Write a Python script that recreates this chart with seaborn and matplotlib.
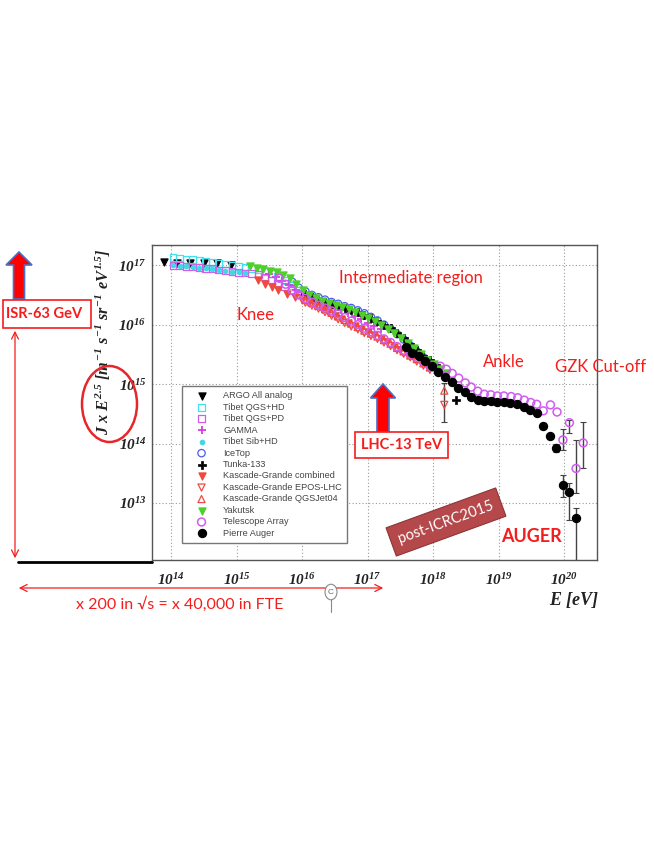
import numpy as np
import pandas as pd
import matplotlib
matplotlib.use("Agg")
import matplotlib.pyplot as plt
import seaborn as sns
from matplotlib.patches import Polygon, Ellipse, Rectangle, Circle
from matplotlib.lines import Line2D

# ---------------- data (log10 of E [eV] and of J x E^2.5) ----------------
argo_logE = [13.89, 14.09, 14.29, 14.50, 14.70, 14.92]
argo_logF = [17.06, 17.03, 17.04, 17.03, 17.04, 17.00]

tibet_hd_logE = [14.03, 14.13, 14.23, 14.33, 14.43, 14.53, 14.63, 14.73, 14.83, 14.93, 15.03, 15.13,
                 15.23, 15.33, 15.43, 15.53, 15.63, 15.73, 15.83, 15.93, 16.03, 16.13, 16.23, 16.33, 16.43, 16.53]
tibet_hd_logF = [17.13, 17.12, 17.10, 17.09, 17.08, 17.06, 17.04, 17.03, 17.02, 17.00, 16.98, 16.97,
                 16.95, 16.93, 16.90, 16.86, 16.81, 16.74, 16.66, 16.58, 16.51, 16.45, 16.40, 16.36, 16.31, 16.27]

tibet_pd_logE = [14.03, 14.13, 14.23, 14.33, 14.43, 14.53, 14.63, 14.73, 14.83, 14.93, 15.03, 15.13,
                 15.23, 15.33, 15.43, 15.53, 15.63, 15.73, 15.83, 15.93, 16.03, 16.13, 16.23, 16.33]
tibet_pd_logF = [17.00, 16.99, 16.98, 16.97, 16.96, 16.95, 16.94, 16.92, 16.91, 16.89, 16.88, 16.87,
                 16.86, 16.84, 16.80, 16.75, 16.70, 16.64, 16.57, 16.50, 16.44, 16.39, 16.35, 16.31]

gamma_logE = [15.5, 15.6, 15.7, 15.8, 15.9, 16.0, 16.1, 16.2, 16.3, 16.4, 16.5, 16.6, 16.7, 16.8, 16.9, 17.0, 17.1, 17.2]
gamma_logF = [16.85, 16.80, 16.74, 16.66, 16.58, 16.50, 16.45, 16.40, 16.36, 16.32, 16.28, 16.24, 16.19, 16.14, 16.09, 16.03, 15.98, 15.92]

tibet_sib_logE = [14.03, 14.13, 14.23, 14.33, 14.43, 14.53, 14.63, 14.73, 14.83, 14.93, 15.03, 15.13]
tibet_sib_logF = [17.00, 16.99, 16.98, 16.97, 16.96, 16.95, 16.94, 16.92, 16.91, 16.89, 16.88, 16.87]

icetop_logE = [15.85, 15.95, 16.05, 16.15, 16.25, 16.35, 16.45, 16.55, 16.65, 16.75, 16.85, 16.95,
               17.05, 17.15, 17.25, 17.35, 17.45, 17.55, 17.65, 17.75, 17.85, 17.95, 18.05]
icetop_logF = [16.72, 16.62, 16.56, 16.50, 16.46, 16.42, 16.38, 16.35, 16.31, 16.28, 16.24, 16.19,
               16.13, 16.07, 16.00, 15.93, 15.84, 15.75, 15.65, 15.55, 15.45, 15.35, 15.27]

tunka_logE = [16.05, 16.15, 16.25, 16.35, 16.45, 16.55, 16.65, 16.75, 16.85, 16.95, 17.05, 17.15,
              17.25, 17.35, 17.45, 17.55, 17.65, 17.75, 17.85, 17.95, 18.05, 18.35]
tunka_logF = [16.52, 16.47, 16.42, 16.38, 16.35, 16.32, 16.28, 16.24, 16.21, 16.17, 16.12, 16.06,
              16.00, 15.94, 15.86, 15.78, 15.68, 15.58, 15.48, 15.40, 15.32, 14.73]

kg_comb_logE = [15.33, 15.44, 15.54, 15.64, 15.77, 15.89, 16.0, 16.1, 16.2, 16.3, 16.4, 16.5, 16.6,
                16.7, 16.8, 16.9, 17.0, 17.1, 17.2, 17.3, 17.4, 17.5, 17.6, 17.7, 17.8, 17.9]
kg_comb_logF = [16.75, 16.69, 16.64, 16.58, 16.52, 16.47, 16.42, 16.37, 16.32, 16.27, 16.21, 16.15, 16.09,
                16.03, 15.98, 15.92, 15.87, 15.82, 15.76, 15.70, 15.63, 15.57, 15.51, 15.45, 15.38, 15.31]

kg_epos_logE = [16.05, 16.15, 16.25, 16.35, 16.45, 16.55, 16.65, 16.75, 16.85, 16.95, 17.05, 17.15,
                17.25, 17.35, 17.45, 17.55, 17.65, 17.75, 17.85, 17.95, 18.17]
kg_epos_logF = [16.37, 16.32, 16.27, 16.21, 16.15, 16.09, 16.03, 15.97, 15.92, 15.86, 15.81, 15.76,
                15.70, 15.64, 15.57, 15.51, 15.45, 15.38, 15.31, 15.24, 14.65]

kg_qgs_logE = [16.05, 16.15, 16.25, 16.35, 16.45, 16.55, 16.65, 16.75, 16.85, 16.95, 17.05, 17.15,
               17.25, 17.35, 17.45, 17.55, 17.65, 17.75, 17.85, 17.95, 18.17]
kg_qgs_logF = [16.42, 16.37, 16.32, 16.26, 16.20, 16.14, 16.08, 16.02, 15.96, 15.90, 15.85, 15.80,
               15.74, 15.68, 15.61, 15.55, 15.48, 15.42, 15.35, 15.28, 14.89]

yakutsk_logE = [15.21, 15.31, 15.41, 15.51, 15.61, 15.71, 15.81, 15.91, 16.01, 16.11, 16.21, 16.31, 16.41,
                16.51, 16.61, 16.71, 16.81, 16.91, 17.01, 17.11, 17.21, 17.31, 17.41, 17.51, 17.61, 17.71,
                17.81, 17.91, 18.01, 18.11, 18.21]
yakutsk_logF = [16.99, 16.96, 16.93, 16.91, 16.88, 16.84, 16.78, 16.69, 16.58, 16.50, 16.44, 16.40, 16.36,
                16.33, 16.30, 16.26, 16.22, 16.17, 16.12, 16.06, 16.00, 15.93, 15.86, 15.78, 15.69, 15.60,
                15.50, 15.41, 15.33, 15.26, 15.18]

ta_logE = [15.65, 15.75, 15.85, 15.95, 16.05, 16.15, 16.25, 16.35, 16.45, 16.55, 16.65, 16.75, 16.85,
           16.95, 17.05, 17.15, 17.25, 17.35, 17.45, 17.55, 17.65, 17.75, 17.85, 17.95,
           18.11, 18.20, 18.29, 18.39, 18.49, 18.58, 18.68, 18.78, 18.88, 18.98, 19.08, 19.19,
           19.29, 19.39, 19.49, 19.58, 19.68, 19.79, 19.89, 19.98, 20.08, 20.18, 20.29]
ta_logF = [16.78, 16.68, 16.58, 16.50, 16.44, 16.38, 16.33, 16.28, 16.23, 16.18, 16.12, 16.06, 16.00,
           15.94, 15.88, 15.82, 15.76, 15.70, 15.63, 15.57, 15.51, 15.45, 15.38, 15.30,
           15.30, 15.25, 15.18, 15.10, 15.02, 14.95, 14.88, 14.83, 14.82, 14.80, 14.80, 14.79,
           14.77, 14.73, 14.69, 14.66, 14.55, 14.65, 14.53, 14.06, 14.35, 13.58, 14.01]
ta_err_logE = [19.98, 20.08, 20.18, 20.29]
ta_err_lo = [13.89, 14.18, 13.17, 13.59]
ta_err_hi = [14.24, 14.40, 14.06, 14.37]

auger_logE = [17.58, 17.68, 17.78, 17.88, 17.98, 18.08, 18.18, 18.28, 18.38, 18.48, 18.58, 18.68, 18.78,
              18.88, 18.98, 19.08, 19.18, 19.28, 19.38, 19.48, 19.58, 19.68, 19.78, 19.88, 19.98, 20.08, 20.18]
auger_logF = [15.62, 15.52, 15.47, 15.38, 15.30, 15.21, 15.12, 15.03, 14.94, 14.86, 14.79, 14.74, 14.72,
              14.71, 14.70, 14.69, 14.68, 14.66, 14.62, 14.57, 14.52, 14.30, 14.12, 13.92, 13.30, 13.19, 12.74]
auger_err_logE = [19.78, 19.88, 19.98, 20.08, 20.18]
auger_err_lo = [14.08, 13.86, 13.10, 12.71, 11.90]
auger_err_hi = [14.16, 13.99, 13.47, 13.34, 12.92]

kg_err_logE = [18.17]
kg_err_lo = [14.37]
kg_err_hi = [15.02]

xtick_exps = [14, 15, 16, 17, 18, 19, 20]
ytick_exps = [13, 14, 15, 16, 17]

# ---------------- style ----------------
W, H = 654, 846
sns.set_theme(style="white")
plt.rcParams["font.family"] = ["Liberation Sans", "DejaVu Sans"]
plt.rcParams["mathtext.fontset"] = "custom"
plt.rcParams["mathtext.rm"] = "Liberation Serif:bold:italic"
plt.rcParams["mathtext.it"] = "Liberation Serif:bold:italic"
plt.rcParams["mathtext.bf"] = "Liberation Serif:bold:italic"

fig = plt.figure(figsize=(W / 100, H / 100), dpi=100)
fig.patch.set_facecolor("white")


def P(x, y):
    return (x / W, 1 - y / H)


ax = fig.add_axes([152 / W, 1 - 560 / H, 445 / W, 315 / H])
ax.set_xscale("log")
ax.set_yscale("log")
ax.set_xlim(10 ** 13.71, 10 ** 20.50)
ax.set_ylim(10 ** 12.04, 10 ** 17.34)


def draw(logE, logF, label, marker, color, filled=True, s=28, lw=0.9, z=3):
    df = pd.DataFrame({"E": 10 ** np.asarray(logE, float), "F": 10 ** np.asarray(logF, float)})
    kw = dict(marker=marker, s=s, linewidth=lw, zorder=z)
    if filled:
        kw.update(color=color, edgecolor=color)
    else:
        kw.update(color=color, facecolor="none", edgecolor=color)
    sns.scatterplot(data=df, x="E", y="F", label=label, ax=ax, **kw)


def errbars(logE, lo, hi, logF_of):
    E = 10 ** np.asarray(logE, float)
    mid = 10 ** np.asarray(logF_of, float)
    ax.errorbar(E, mid, yerr=[mid - 10 ** np.asarray(lo, float), 10 ** np.asarray(hi, float) - mid],
                fmt="none", ecolor="#444444", elinewidth=1.0, capsize=2, capthick=0.8, zorder=2)


# error bars first
auger_map = dict(zip(auger_logE, auger_logF))
ta_map = dict(zip(ta_logE, ta_logF))
errbars(auger_err_logE, auger_err_lo, auger_err_hi, [auger_map[e] for e in auger_err_logE])
errbars(ta_err_logE, ta_err_lo, ta_err_hi, [ta_map[e] for e in ta_err_logE])
errbars(kg_err_logE, kg_err_lo, kg_err_hi, [14.65])

draw(argo_logE, argo_logF, "ARGO All analog", "v", "black", True, s=26)
draw(tibet_hd_logE, tibet_hd_logF, "Tibet QGS+HD", "s", "#3fe3f0", False, s=24)
draw(tibet_pd_logE, tibet_pd_logF, "Tibet QGS+PD", "s", "#d45be8", False, s=24)
draw(gamma_logE, gamma_logF, "GAMMA", "+", "#d43fe0", True, s=32, lw=1.3)
draw(tibet_sib_logE, tibet_sib_logF, "Tibet Sib+HD", "o", "#3fd8e8", True, s=10)
draw(icetop_logE, icetop_logF, "IceTop", "o", "#4a5cf0", False, s=28)
draw(tunka_logE, tunka_logF, "Tunka-133", "P", "black", True, s=36, lw=0.5)
draw(kg_comb_logE, kg_comb_logF, "Kascade-Grande combined", "v", "#f04a40", True, s=26)
draw(kg_epos_logE, kg_epos_logF, "Kascade-Grande EPOS-LHC", "v", "#f04a40", False, s=26)
draw(kg_qgs_logE, kg_qgs_logF, "Kascade-Grande QGSJet04", "^", "#f04a40", False, s=26)
draw(yakutsk_logE, yakutsk_logF, "Yakutsk", "v", "#4ed02a", True, s=26)
draw(ta_logE, ta_logF, "Telescope Array", "o", "#d05cf0", False, s=32, lw=1.1)
draw(auger_logE, auger_logF, "Pierre Auger", "o", "black", True, s=34)

# axes cosmetics (ROOT-like)
ax.set_xticks([10.0 ** e for e in xtick_exps], [rf"$10^{{{e}}}$" for e in xtick_exps])
ax.set_yticks([10.0 ** e for e in ytick_exps], [rf"$10^{{{e}}}$" for e in ytick_exps])
ax.xaxis.set_minor_locator(matplotlib.ticker.LogLocator(base=10, subs=np.arange(2, 10), numticks=50))
ax.yaxis.set_minor_locator(matplotlib.ticker.LogLocator(base=10, subs=np.arange(2, 10), numticks=50))
ax.xaxis.set_minor_formatter(matplotlib.ticker.NullFormatter())
ax.yaxis.set_minor_formatter(matplotlib.ticker.NullFormatter())
ax.tick_params(axis="both", which="major", direction="in", length=8, width=0.8, color="#555555",
               labelsize=11, labelcolor="#222222")
ax.tick_params(axis="both", which="minor", direction="in", length=4.5, width=0.7, color="#555555")
ax.tick_params(axis="x", which="major", pad=9)
ax.tick_params(axis="y", which="major", pad=4)
ax.tick_params(top=False, right=False, which="both")
ax.grid(True, which="major", linestyle=(0, (1, 2)), color="#999999", linewidth=0.8)
for sp in ax.spines.values():
    sp.set_color("#555555")
    sp.set_linewidth(1.0)

ax.set_xlabel(r"$E\ [eV]$", fontsize=13, loc="right", color="#222222")
ax.xaxis.set_label_coords(1.005, -0.095)
ax.set_ylabel(r"$J\ x\ E^{2.5}\ [m^{-1}\ s^{-1}\ sr^{-1}\ eV^{1.5}]$", fontsize=11.7, loc="top", color="#222222")
ax.yaxis.set_label_coords(-0.088, 0.99)

leg = ax.legend(loc="upper left", bbox_to_anchor=(0.067, 0.552), borderaxespad=0, frameon=True,
                fancybox=False, edgecolor="#777777", framealpha=1, fontsize=6.6, labelspacing=0.27,
                handlelength=3.2, handletextpad=0.75, borderpad=0.55, scatterpoints=1, labelcolor="#444444")
leg.get_frame().set_linewidth(1.0)
leg.set_zorder(10)

# ---------------- slide annotations ----------------
RED = "#f51c1c"
SF = ["Lato", "DejaVu Sans"]

fig.text(*P(411, 278), "Intermediate region", color=RED, fontsize=12, family=SF, ha="center", va="center")
fig.text(*P(256, 315), "Knee", color=RED, fontsize=12, family=SF, ha="center", va="center")
fig.text(*P(504, 362), "Ankle", color=RED, fontsize=12, family=SF, ha="center", va="center")
fig.text(*P(555, 367), "GZK Cut-off", color=RED, fontsize=12, family=SF, ha="left", va="center")
fig.text(*P(531, 537), "AUGER", color=RED, fontsize=13, family=SF, weight="bold", ha="center", va="center")
fig.text(*P(180, 604), "x 200 in \u221as = x 40,000 in FTE", color=RED, fontsize=11.5, family=SF,
         ha="center", va="center")


def poly_px(pts, **kw):
    fig.patches.append(Polygon([P(x, y) for x, y in pts], closed=True, transform=fig.transFigure, **kw))


def up_arrow(cx, tip, base, bottom, hw_shaft, hw_head):
    pts = [(cx, tip), (cx + hw_head, base), (cx + hw_shaft, base), (cx + hw_shaft, bottom),
           (cx - hw_shaft, bottom), (cx - hw_shaft, base), (cx - hw_head, base)]
    poly_px(pts, facecolor="#ff0000", edgecolor="#4a6fc8", linewidth=1.2, zorder=5)


up_arrow(19, 252, 265, 299, 5.5, 13)
up_arrow(383, 384, 398, 432, 6, 12.5)

# boxes
fig.patches.append(Rectangle(P(3, 328), 88 / W, 28 / H, transform=fig.transFigure,
                             facecolor="white", edgecolor=RED, linewidth=1.2, zorder=5))
fig.text(*P(44, 314), "ISR-63 GeV", color=RED, fontsize=10.5, family=SF, weight="bold",
         ha="center", va="center", zorder=6)
fig.patches.append(Rectangle(P(355, 458), 93 / W, 26 / H, transform=fig.transFigure,
                             facecolor="white", edgecolor=RED, linewidth=1.2, zorder=5))
fig.text(*P(402, 445), "LHC-13 TeV", color=RED, fontsize=10.5, family=SF, weight="bold",
         ha="center", va="center", zorder=6)

# post-ICRC2015 label
fig.text(*P(446, 522), "post-ICRC2015", color="white", fontsize=10.5, family=SF, rotation=20,
         ha="center", va="center", rotation_mode="anchor", zorder=6,
         bbox=dict(boxstyle="square,pad=0.55", facecolor="#b5484a", edgecolor="#8e3535", linewidth=0.8))

# ellipse around J x E^2.5
fig.patches.append(Ellipse(P(109.5, 404), 55 / W, 76 / H, transform=fig.transFigure,
                           facecolor="none", edgecolor="#e8262a", linewidth=1.8, zorder=6))

# arrows and lines
fig.lines.append(Line2D([18 / W, 152 / W], [1 - 562 / H, 1 - 562 / H], transform=fig.transFigure,
                        color="black", linewidth=2.0, zorder=5))
fig.patches.append(matplotlib.patches.FancyArrowPatch(P(15, 328), P(15, 561), transform=fig.transFigure,
                   arrowstyle="<->,head_length=5,head_width=2.5", color=RED, linewidth=0.9, zorder=5))
fig.patches.append(matplotlib.patches.FancyArrowPatch(P(16, 588), P(386, 588), transform=fig.transFigure,
                   arrowstyle="<->,head_length=5,head_width=2.5", color=RED, linewidth=0.9, zorder=5))

# small UI rotate handle
fig.patches.append(Circle(P(331, 592), 6 / W, transform=fig.transFigure, facecolor="white",
                          edgecolor="#888888", linewidth=0.8, zorder=6))
fig.text(*P(331, 592), "C", fontsize=6, color="#666666", ha="center", va="center", zorder=7)
fig.lines.append(Line2D([331 / W, 331 / W], [1 - 598 / H, 1 - 612 / H], transform=fig.transFigure,
                        color="#888888", linewidth=0.8, zorder=5))

fig.savefig("out.png", dpi=100, facecolor="white")
